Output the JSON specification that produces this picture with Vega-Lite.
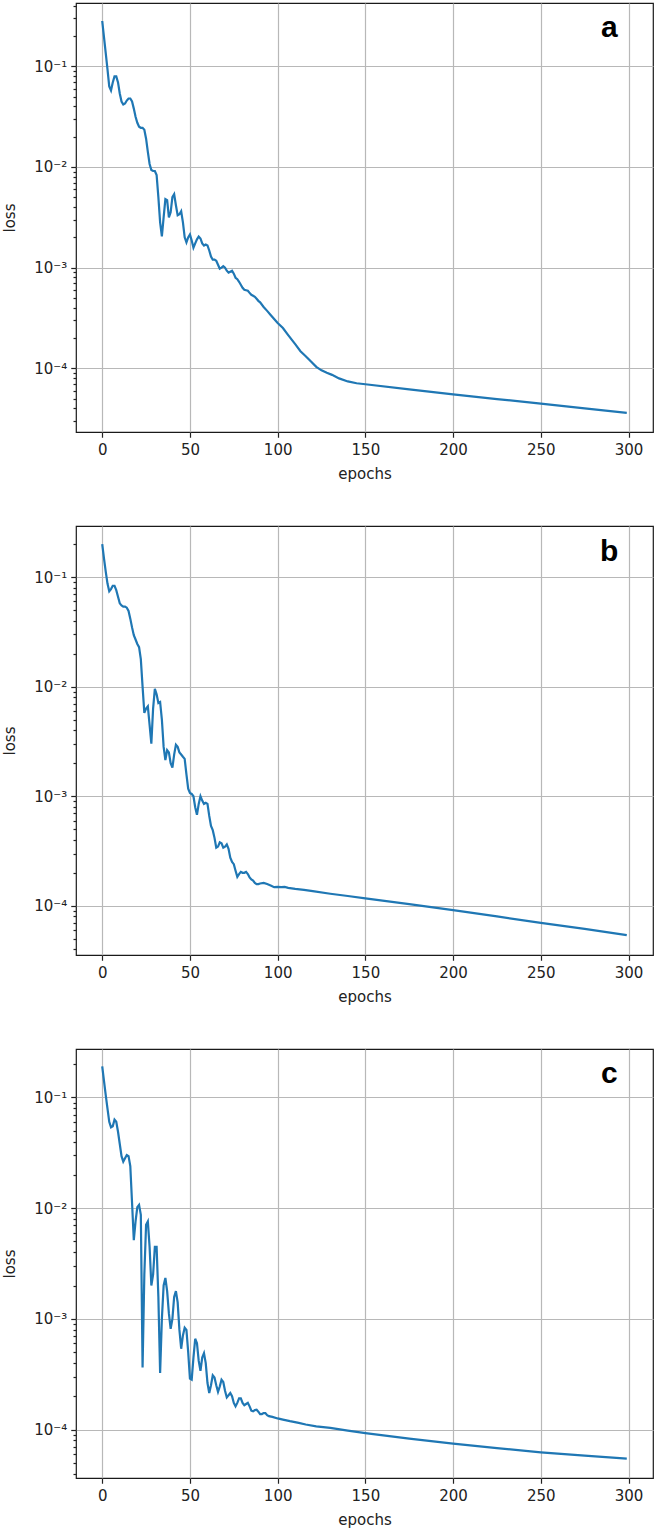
{
"$schema": "https://vega.github.io/schema/vega-lite/v6.json",
"padding": {"left": 1, "top": 2, "right": 4, "bottom": 5},
"background": "white",
"bounds": "flush",
"spacing": 94,
"config": {
  "font": "DejaVu Sans",
  "view": {"stroke": "#1a1a1a", "strokeWidth": 1.2},
  "axis": {"labelFont": "DejaVu Sans", "labelFontSize": 15, "labelColor": "#222222", "titleFont": "DejaVu Sans", "titleFontSize": 15, "titleFontWeight": "normal", "titleColor": "#222222", "tickColor": "#222222", "tickWidth": 1.2, "gridColor": "#b8b8b8", "gridWidth": 1.2, "domain": false, "labelOverlap": false, "labelFlush": false, "labelBound": false}
},
"datasets": {
"a": [
{"epoch":0,"loss":0.282},{"epoch":1,"loss":0.195},{"epoch":2,"loss":0.135},{"epoch":3,"loss":0.0933},{"epoch":4,"loss":0.0631},{"epoch":5,"loss":0.0575},{"epoch":6,"loss":0.0692},{"epoch":7,"loss":0.0794},{"epoch":8,"loss":0.0794},{"epoch":9,"loss":0.0692},
{"epoch":10,"loss":0.0537},{"epoch":11,"loss":0.0447},{"epoch":12,"loss":0.0417},{"epoch":13,"loss":0.0427},{"epoch":14,"loss":0.0457},{"epoch":15,"loss":0.0479},{"epoch":16,"loss":0.0479},{"epoch":17,"loss":0.0447},{"epoch":18,"loss":0.038},{"epoch":19,"loss":0.0316},
{"epoch":20,"loss":0.0275},{"epoch":21,"loss":0.0251},{"epoch":22,"loss":0.0245},{"epoch":23,"loss":0.0245},{"epoch":24,"loss":0.0234},{"epoch":25,"loss":0.0191},{"epoch":26,"loss":0.0141},{"epoch":27,"loss":0.0107},{"epoch":28,"loss":0.00933},{"epoch":29,"loss":0.00912},
{"epoch":30,"loss":0.00912},{"epoch":31,"loss":0.00832},{"epoch":32,"loss":0.00501},{"epoch":33,"loss":0.00282},{"epoch":34,"loss":0.00204},{"epoch":35,"loss":0.00316},{"epoch":36,"loss":0.00479},{"epoch":37,"loss":0.00468},{"epoch":38,"loss":0.00316},{"epoch":39,"loss":0.00355},
{"epoch":40,"loss":0.00501},{"epoch":41,"loss":0.00537},{"epoch":42,"loss":0.00417},{"epoch":43,"loss":0.00331},{"epoch":44,"loss":0.00339},{"epoch":45,"loss":0.00363},{"epoch":46,"loss":0.00282},{"epoch":47,"loss":0.002},{"epoch":48,"loss":0.00178},{"epoch":49,"loss":0.002},
{"epoch":50,"loss":0.00214},{"epoch":51,"loss":0.00186},{"epoch":52,"loss":0.00158},{"epoch":53,"loss":0.00174},{"epoch":54,"loss":0.00191},{"epoch":55,"loss":0.00204},{"epoch":56,"loss":0.00195},{"epoch":57,"loss":0.00174},{"epoch":58,"loss":0.00166},{"epoch":59,"loss":0.0017},
{"epoch":60,"loss":0.00166},{"epoch":61,"loss":0.00148},{"epoch":62,"loss":0.00129},{"epoch":63,"loss":0.0012},{"epoch":64,"loss":0.0012},{"epoch":65,"loss":0.00117},{"epoch":66,"loss":0.00107},{"epoch":67,"loss":0.000977},{"epoch":68,"loss":0.001},{"epoch":69,"loss":0.001035},
{"epoch":70,"loss":0.001},{"epoch":71,"loss":0.000933},{"epoch":72,"loss":0.000891},{"epoch":73,"loss":0.000912},{"epoch":74,"loss":0.000933},{"epoch":75,"loss":0.000871},{"epoch":76,"loss":0.000794},{"epoch":77,"loss":0.000767},{"epoch":78,"loss":0.000724},{"epoch":79,"loss":0.000676},
{"epoch":80,"loss":0.000631},{"epoch":81,"loss":0.000603},{"epoch":82,"loss":0.000596},{"epoch":83,"loss":0.000589},{"epoch":84,"loss":0.000562},{"epoch":85,"loss":0.000537},{"epoch":86,"loss":0.000525},{"epoch":87,"loss":0.000513},{"epoch":88,"loss":0.00049},{"epoch":89,"loss":0.000468},
{"epoch":90,"loss":0.000452},{"epoch":92,"loss":0.000407},{"epoch":94,"loss":0.000372},{"epoch":96,"loss":0.000339},{"epoch":98,"loss":0.000309},{"epoch":100,"loss":0.000282},{"epoch":103,"loss":0.000251},{"epoch":106,"loss":0.000214},{"epoch":110,"loss":0.000174},{"epoch":113,"loss":0.000148},
{"epoch":116,"loss":0.000132},{"epoch":119,"loss":0.000117},{"epoch":122,"loss":0.0001035},{"epoch":125,"loss":0.0000955},{"epoch":128,"loss":0.0000902},{"epoch":131,"loss":0.0000861},{"epoch":135,"loss":0.0000794},{"epoch":140,"loss":0.0000741},{"epoch":145,"loss":0.0000711},{"epoch":150,"loss":0.0000695},
{"epoch":175,"loss":0.0000617},{"epoch":200,"loss":0.0000552},{"epoch":225,"loss":0.0000495},{"epoch":250,"loss":0.0000446},{"epoch":275,"loss":0.00004},{"epoch":299,"loss":0.0000361}
],
"b": [
{"epoch":0,"loss":0.2},{"epoch":1,"loss":0.148},{"epoch":2,"loss":0.112},{"epoch":3,"loss":0.0871},{"epoch":4,"loss":0.0741},{"epoch":5,"loss":0.0776},{"epoch":6,"loss":0.0832},{"epoch":7,"loss":0.0832},{"epoch":8,"loss":0.0759},{"epoch":9,"loss":0.0661},
{"epoch":10,"loss":0.0575},{"epoch":11,"loss":0.055},{"epoch":12,"loss":0.0537},{"epoch":13,"loss":0.0537},{"epoch":14,"loss":0.0525},{"epoch":15,"loss":0.049},{"epoch":16,"loss":0.0417},{"epoch":17,"loss":0.0347},{"epoch":18,"loss":0.0295},{"epoch":19,"loss":0.0269},
{"epoch":20,"loss":0.0245},{"epoch":21,"loss":0.0229},{"epoch":22,"loss":0.0178},{"epoch":23,"loss":0.01},{"epoch":24,"loss":0.00575},{"epoch":25,"loss":0.00631},{"epoch":26,"loss":0.00661},{"epoch":27,"loss":0.00447},{"epoch":28,"loss":0.00302},{"epoch":29,"loss":0.00631},
{"epoch":30,"loss":0.00955},{"epoch":31,"loss":0.00851},{"epoch":32,"loss":0.00708},{"epoch":33,"loss":0.00724},{"epoch":34,"loss":0.00501},{"epoch":35,"loss":0.00282},{"epoch":36,"loss":0.00214},{"epoch":37,"loss":0.00263},{"epoch":38,"loss":0.00251},{"epoch":39,"loss":0.002},
{"epoch":40,"loss":0.00182},{"epoch":41,"loss":0.0024},{"epoch":42,"loss":0.00295},{"epoch":43,"loss":0.00282},{"epoch":44,"loss":0.00251},{"epoch":45,"loss":0.0024},{"epoch":46,"loss":0.00229},{"epoch":47,"loss":0.00219},{"epoch":48,"loss":0.00158},{"epoch":49,"loss":0.00117},
{"epoch":50,"loss":0.00107},{"epoch":51,"loss":0.00105},{"epoch":52,"loss":0.001},{"epoch":53,"loss":0.000794},{"epoch":54,"loss":0.000676},{"epoch":55,"loss":0.000851},{"epoch":56,"loss":0.001},{"epoch":57,"loss":0.000912},{"epoch":58,"loss":0.000851},{"epoch":59,"loss":0.000871},
{"epoch":60,"loss":0.000851},{"epoch":61,"loss":0.000661},{"epoch":62,"loss":0.000537},{"epoch":63,"loss":0.00049},{"epoch":64,"loss":0.000417},{"epoch":65,"loss":0.000339},{"epoch":66,"loss":0.000347},{"epoch":67,"loss":0.00038},{"epoch":68,"loss":0.000372},{"epoch":69,"loss":0.000339},
{"epoch":70,"loss":0.000347},{"epoch":71,"loss":0.000363},{"epoch":72,"loss":0.000331},{"epoch":73,"loss":0.000275},{"epoch":74,"loss":0.000251},{"epoch":75,"loss":0.00024},{"epoch":76,"loss":0.000209},{"epoch":77,"loss":0.000184},{"epoch":78,"loss":0.000195},{"epoch":79,"loss":0.000204},
{"epoch":80,"loss":0.0002},{"epoch":81,"loss":0.0002},{"epoch":82,"loss":0.000204},{"epoch":83,"loss":0.000195},{"epoch":84,"loss":0.000182},{"epoch":85,"loss":0.000174},{"epoch":86,"loss":0.00017},{"epoch":87,"loss":0.000162},{"epoch":88,"loss":0.000158},{"epoch":89,"loss":0.000158},
{"epoch":90,"loss":0.00016},{"epoch":92,"loss":0.000162},{"epoch":94,"loss":0.000158},{"epoch":96,"loss":0.000153},{"epoch":98,"loss":0.000148},{"epoch":100,"loss":0.000149},{"epoch":102,"loss":0.000148},{"epoch":104,"loss":0.000149},{"epoch":106,"loss":0.000146},{"epoch":110,"loss":0.000143},
{"epoch":115,"loss":0.00014},{"epoch":120,"loss":0.000136},{"epoch":130,"loss":0.000129},{"epoch":140,"loss":0.000123},{"epoch":150,"loss":0.000117},{"epoch":175,"loss":0.0001035},{"epoch":200,"loss":0.0000914},{"epoch":225,"loss":0.00008},{"epoch":250,"loss":0.00007},{"epoch":275,"loss":0.0000617},{"epoch":299,"loss":0.0000541}
],
"c": [
{"epoch":0,"loss":0.191},{"epoch":1,"loss":0.141},{"epoch":2,"loss":0.105},{"epoch":3,"loss":0.0794},{"epoch":4,"loss":0.0603},{"epoch":5,"loss":0.0537},{"epoch":6,"loss":0.055},{"epoch":7,"loss":0.0631},{"epoch":8,"loss":0.0603},{"epoch":9,"loss":0.049},
{"epoch":10,"loss":0.038},{"epoch":11,"loss":0.0295},{"epoch":12,"loss":0.0263},{"epoch":13,"loss":0.0282},{"epoch":14,"loss":0.0302},{"epoch":15,"loss":0.0295},{"epoch":16,"loss":0.024},{"epoch":17,"loss":0.0112},{"epoch":18,"loss":0.00513},{"epoch":19,"loss":0.00759},
{"epoch":20,"loss":0.0102},{"epoch":21,"loss":0.0107},{"epoch":22,"loss":0.00871},{"epoch":23,"loss":0.000363},{"epoch":24,"loss":0.00251},{"epoch":25,"loss":0.00708},{"epoch":26,"loss":0.00759},{"epoch":27,"loss":0.00447},{"epoch":28,"loss":0.002},{"epoch":29,"loss":0.00251},
{"epoch":30,"loss":0.00447},{"epoch":31,"loss":0.00447},{"epoch":32,"loss":0.00158},{"epoch":33,"loss":0.000324},{"epoch":34,"loss":0.001},{"epoch":35,"loss":0.002},{"epoch":36,"loss":0.00234},{"epoch":37,"loss":0.00178},{"epoch":38,"loss":0.00112},{"epoch":39,"loss":0.000813},
{"epoch":40,"loss":0.001},{"epoch":41,"loss":0.00158},{"epoch":42,"loss":0.00178},{"epoch":43,"loss":0.00141},{"epoch":44,"loss":0.000794},{"epoch":45,"loss":0.000537},{"epoch":46,"loss":0.000708},{"epoch":47,"loss":0.000832},{"epoch":48,"loss":0.000794},{"epoch":49,"loss":0.000501},
{"epoch":50,"loss":0.000288},{"epoch":51,"loss":0.000282},{"epoch":52,"loss":0.000447},{"epoch":53,"loss":0.000661},{"epoch":54,"loss":0.000603},{"epoch":55,"loss":0.000417},{"epoch":56,"loss":0.000339},{"epoch":57,"loss":0.000447},{"epoch":58,"loss":0.00049},{"epoch":59,"loss":0.000398},
{"epoch":60,"loss":0.000263},{"epoch":61,"loss":0.000214},{"epoch":62,"loss":0.000251},{"epoch":63,"loss":0.000309},{"epoch":64,"loss":0.000295},{"epoch":65,"loss":0.000251},{"epoch":66,"loss":0.000219},{"epoch":67,"loss":0.000245},{"epoch":68,"loss":0.000282},{"epoch":69,"loss":0.000269},
{"epoch":70,"loss":0.000224},{"epoch":71,"loss":0.000195},{"epoch":72,"loss":0.000204},{"epoch":73,"loss":0.000214},{"epoch":74,"loss":0.0002},{"epoch":75,"loss":0.000174},{"epoch":76,"loss":0.000162},{"epoch":77,"loss":0.000174},{"epoch":78,"loss":0.000191},{"epoch":79,"loss":0.000191},
{"epoch":80,"loss":0.000174},{"epoch":81,"loss":0.000166},{"epoch":82,"loss":0.00017},{"epoch":83,"loss":0.000174},{"epoch":84,"loss":0.000162},{"epoch":85,"loss":0.000148},{"epoch":86,"loss":0.000146},{"epoch":87,"loss":0.00015},{"epoch":88,"loss":0.000151},{"epoch":89,"loss":0.000145},
{"epoch":90,"loss":0.000138},{"epoch":91,"loss":0.000138},{"epoch":92,"loss":0.000141},{"epoch":93,"loss":0.000141},{"epoch":94,"loss":0.000135},{"epoch":95,"loss":0.000132},{"epoch":97,"loss":0.00013},{"epoch":100,"loss":0.000126},{"epoch":103,"loss":0.000123},{"epoch":107,"loss":0.000119},
{"epoch":112,"loss":0.000115},{"epoch":116,"loss":0.000111},{"epoch":122,"loss":0.000107},{"epoch":130,"loss":0.0001035},{"epoch":140,"loss":0.0000977},{"epoch":150,"loss":0.0000927},{"epoch":175,"loss":0.0000828},{"epoch":200,"loss":0.0000745},{"epoch":225,"loss":0.0000679},{"epoch":250,"loss":0.0000622},{"epoch":275,"loss":0.0000581},{"epoch":299,"loss":0.0000546}
]
},
"vconcat": [
{
  "width": 577, "height": 429,
  "layer": [
    {"data": {"name": "a"},
     "mark": {"type": "line", "color": "#1f77b4", "strokeWidth": 2.2},
     "encoding": {
       "x": {"field": "epoch", "type": "quantitative", "scale": {"domain": [-14.95, 313.95], "nice": false, "zero": false},
             "axis": {"title": "epochs", "values": [0,50,100,150,200,250,300], "format": "d", "grid": true, "tickSize": 5.25, "labelPadding": 5.25, "titlePadding": 9}},
       "y": {"field": "loss", "type": "quantitative", "scale": {"type": "log", "domain": [0.0000233, 0.4256], "nice": false},
             "axis": {"title": "loss", "titleX": -62, "titleBaseline": "alphabetic", "titleAngle": 270, "labelPadding": 4,
                      "values": [0.00003,0.00004,0.00005,0.00006,0.00007,0.00008,0.00009,0.0001,0.0002,0.0003,0.0004,0.0005,0.0006,0.0007,0.0008,0.0009,0.001,0.002,0.003,0.004,0.005,0.006,0.007,0.008,0.009,0.01,0.02,0.03,0.04,0.05,0.06,0.07,0.08,0.09,0.1,0.2,0.3,0.4],
                      "labelExpr": "abs(log(datum.value)/LN10 - round(log(datum.value)/LN10)) < 0.01 ? '10' + '⁻' + ['⁰','¹','²','³','⁴','⁵'][-round(log(datum.value)/LN10)] : ''",
                      "labelFontSize": {"condition": {"test": "abs(log(datum.value)/LN10 - round(log(datum.value)/LN10)) < 0.01", "value": 15}, "value": 0},
                      "grid": true,
                      "gridOpacity": {"condition": {"test": "abs(log(datum.value)/LN10 - round(log(datum.value)/LN10)) < 0.01", "value": 1}, "value": 0},
                      "tickSize": {"condition": {"test": "abs(log(datum.value)/LN10 - round(log(datum.value)/LN10)) < 0.01", "value": 5.25}, "value": 3}}}
     }},
    {"data": {"values": [{"panel": "a"}]},
     "mark": {"type": "text", "font": "Liberation Sans", "fontWeight": "bold", "fontSize": 30, "align": "center", "baseline": "alphabetic", "color": "#000000"},
     "encoding": {"x": {"datum": 289, "type": "quantitative"}, "y": {"datum": 0.194, "type": "quantitative"}, "text": {"field": "panel"}}}
  ]
},
{
  "width": 577, "height": 429,
  "layer": [
    {"data": {"name": "b"},
     "mark": {"type": "line", "color": "#1f77b4", "strokeWidth": 2.2},
     "encoding": {
       "x": {"field": "epoch", "type": "quantitative", "scale": {"domain": [-14.95, 313.95], "nice": false, "zero": false},
             "axis": {"title": "epochs", "values": [0,50,100,150,200,250,300], "format": "d", "grid": true, "tickSize": 5.25, "labelPadding": 5.25, "titlePadding": 9}},
       "y": {"field": "loss", "type": "quantitative", "scale": {"type": "log", "domain": [0.0000356, 0.292], "nice": false},
             "axis": {"title": "loss", "titleX": -62, "titleBaseline": "alphabetic", "titleAngle": 270, "labelPadding": 4,
                      "values": [0.00004,0.00005,0.00006,0.00007,0.00008,0.00009,0.0001,0.0002,0.0003,0.0004,0.0005,0.0006,0.0007,0.0008,0.0009,0.001,0.002,0.003,0.004,0.005,0.006,0.007,0.008,0.009,0.01,0.02,0.03,0.04,0.05,0.06,0.07,0.08,0.09,0.1,0.2],
                      "labelExpr": "abs(log(datum.value)/LN10 - round(log(datum.value)/LN10)) < 0.01 ? '10' + '⁻' + ['⁰','¹','²','³','⁴','⁵'][-round(log(datum.value)/LN10)] : ''",
                      "labelFontSize": {"condition": {"test": "abs(log(datum.value)/LN10 - round(log(datum.value)/LN10)) < 0.01", "value": 15}, "value": 0},
                      "grid": true,
                      "gridOpacity": {"condition": {"test": "abs(log(datum.value)/LN10 - round(log(datum.value)/LN10)) < 0.01", "value": 1}, "value": 0},
                      "tickSize": {"condition": {"test": "abs(log(datum.value)/LN10 - round(log(datum.value)/LN10)) < 0.01", "value": 5.25}, "value": 3}}}
     }},
    {"data": {"values": [{"panel": "b"}]},
     "mark": {"type": "text", "font": "Liberation Sans", "fontWeight": "bold", "fontSize": 30, "align": "center", "baseline": "alphabetic", "color": "#000000"},
     "encoding": {"x": {"datum": 289, "type": "quantitative"}, "y": {"datum": 0.139, "type": "quantitative"}, "text": {"field": "panel"}}}
  ]
},
{
  "width": 577, "height": 429,
  "layer": [
    {"data": {"name": "c"},
     "mark": {"type": "line", "color": "#1f77b4", "strokeWidth": 2.2},
     "encoding": {
       "x": {"field": "epoch", "type": "quantitative", "scale": {"domain": [-14.95, 313.95], "nice": false, "zero": false},
             "axis": {"title": "epochs", "values": [0,50,100,150,200,250,300], "format": "d", "grid": true, "tickSize": 5.25, "labelPadding": 5.25, "titlePadding": 9}},
       "y": {"field": "loss", "type": "quantitative", "scale": {"type": "log", "domain": [0.0000365, 0.274], "nice": false},
             "axis": {"title": "loss", "titleX": -62, "titleBaseline": "alphabetic", "titleAngle": 270, "labelPadding": 4,
                      "values": [0.00004,0.00005,0.00006,0.00007,0.00008,0.00009,0.0001,0.0002,0.0003,0.0004,0.0005,0.0006,0.0007,0.0008,0.0009,0.001,0.002,0.003,0.004,0.005,0.006,0.007,0.008,0.009,0.01,0.02,0.03,0.04,0.05,0.06,0.07,0.08,0.09,0.1,0.2],
                      "labelExpr": "abs(log(datum.value)/LN10 - round(log(datum.value)/LN10)) < 0.01 ? '10' + '⁻' + ['⁰','¹','²','³','⁴','⁵'][-round(log(datum.value)/LN10)] : ''",
                      "labelFontSize": {"condition": {"test": "abs(log(datum.value)/LN10 - round(log(datum.value)/LN10)) < 0.01", "value": 15}, "value": 0},
                      "grid": true,
                      "gridOpacity": {"condition": {"test": "abs(log(datum.value)/LN10 - round(log(datum.value)/LN10)) < 0.01", "value": 1}, "value": 0},
                      "tickSize": {"condition": {"test": "abs(log(datum.value)/LN10 - round(log(datum.value)/LN10)) < 0.01", "value": 5.25}, "value": 3}}}
     }},
    {"data": {"values": [{"panel": "c"}]},
     "mark": {"type": "text", "font": "Liberation Sans", "fontWeight": "bold", "fontSize": 30, "align": "center", "baseline": "alphabetic", "color": "#000000"},
     "encoding": {"x": {"datum": 289, "type": "quantitative"}, "y": {"datum": 0.134, "type": "quantitative"}, "text": {"field": "panel"}}}
  ]
}
]
}
